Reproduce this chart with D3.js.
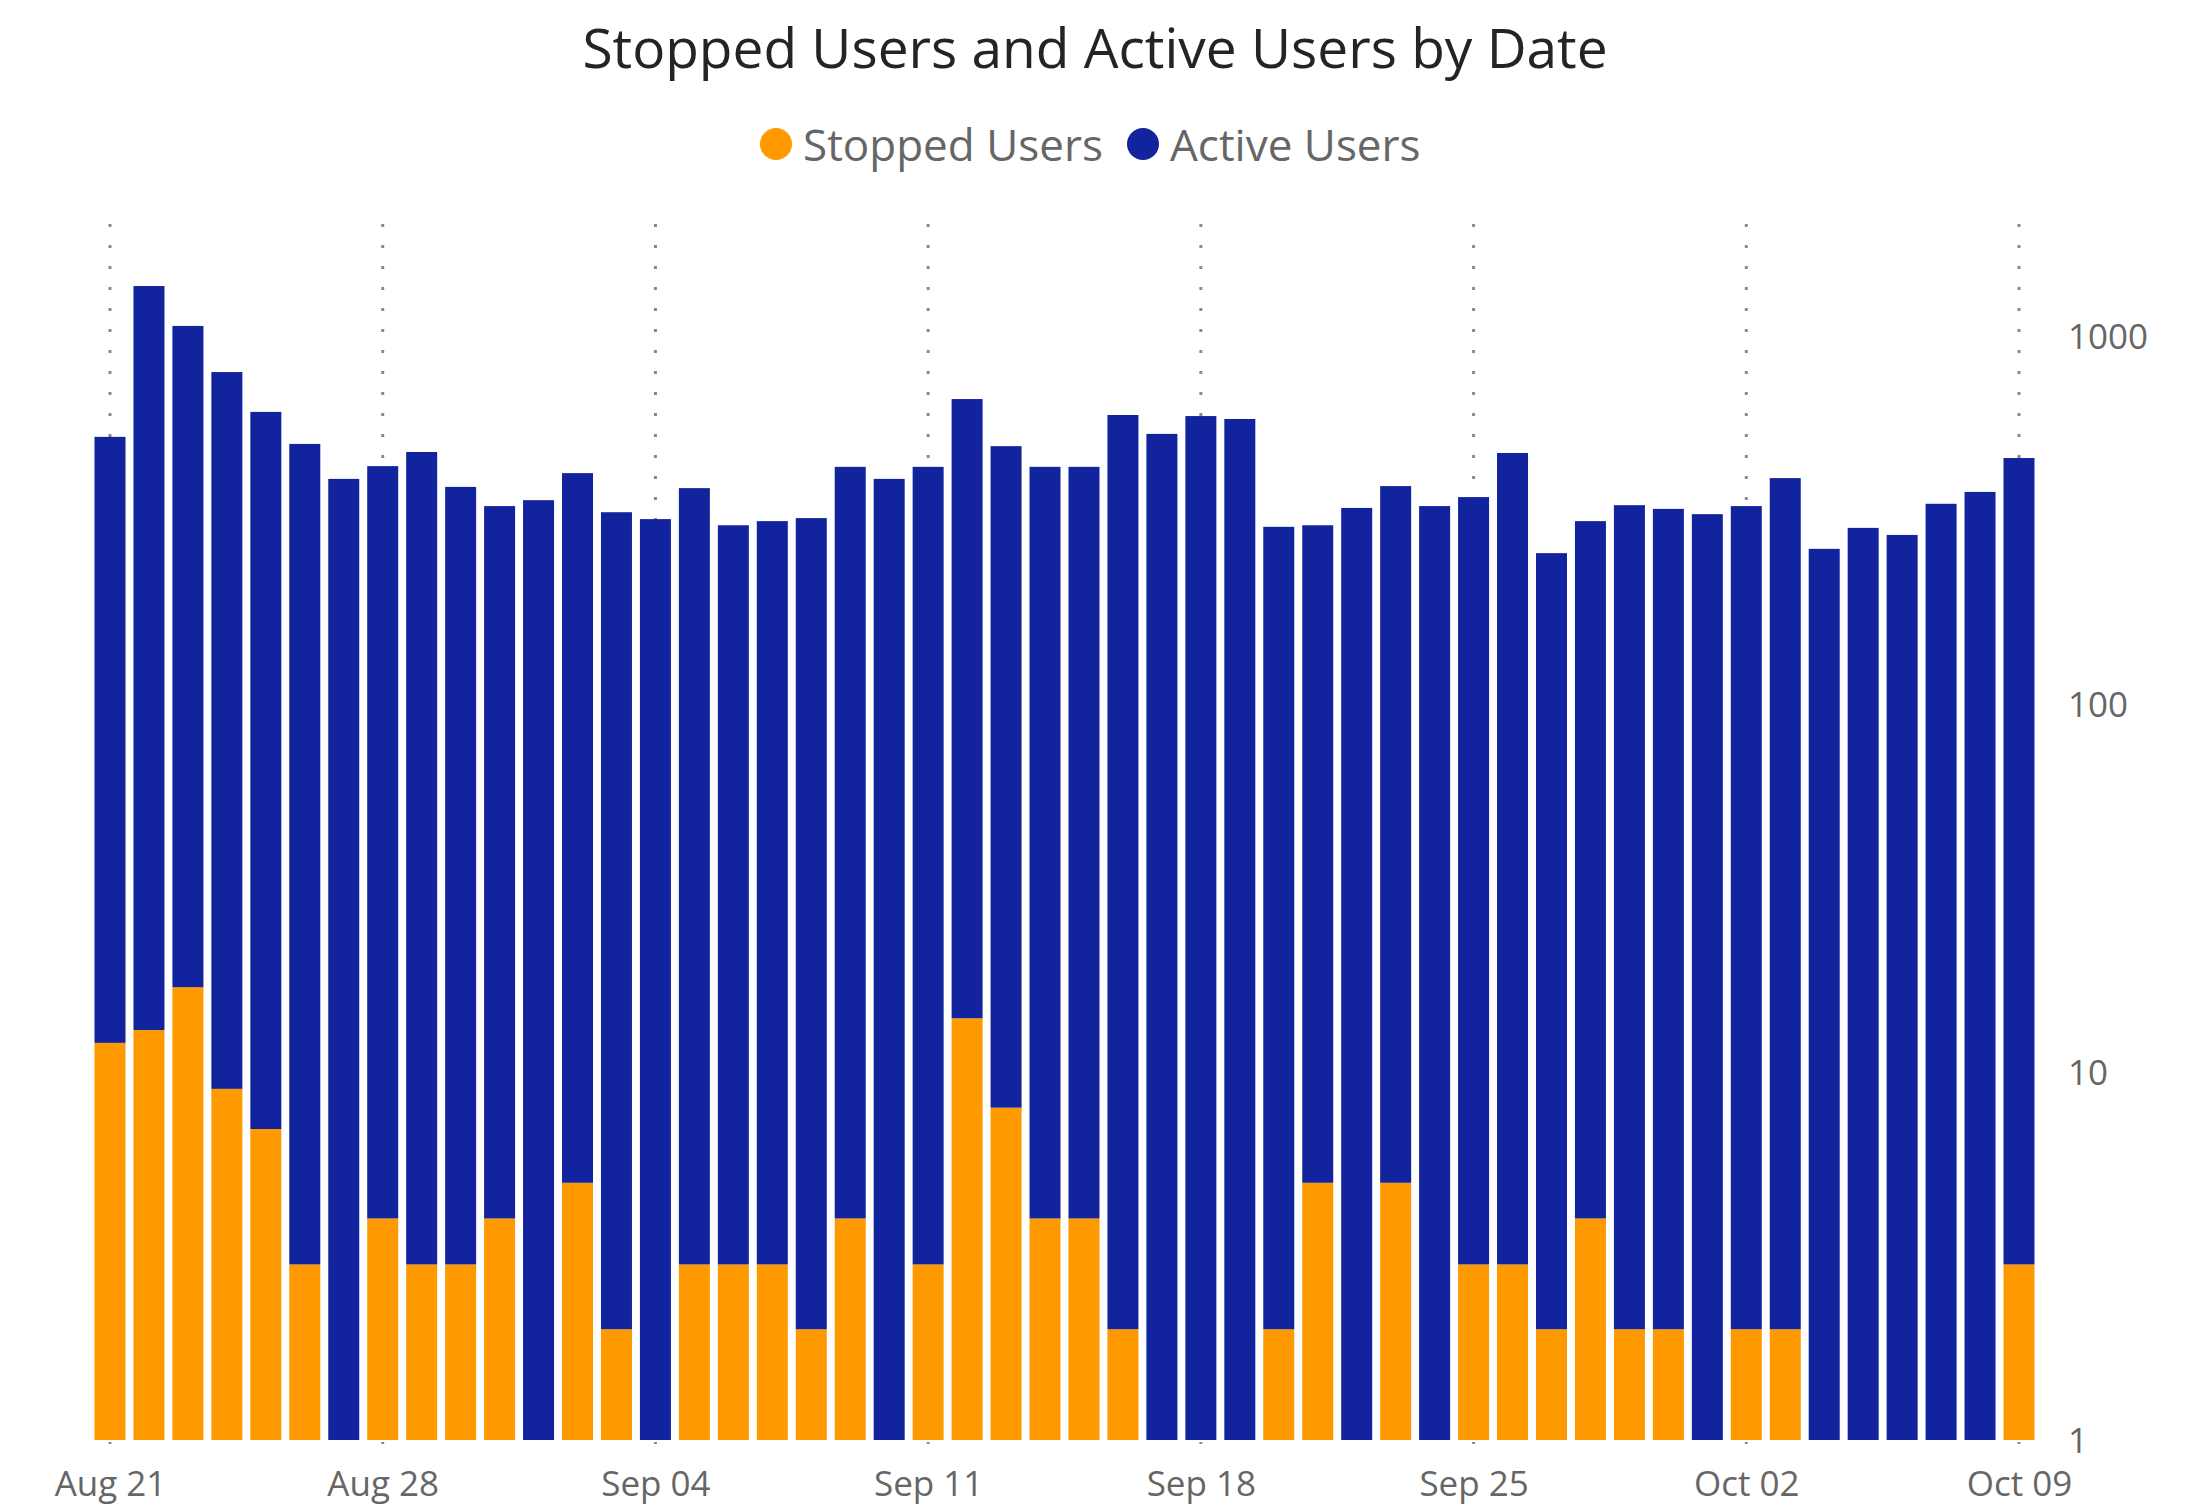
<!DOCTYPE html>
<html>
<head>
<meta charset="utf-8">
<script src="https://cdn.jsdelivr.net/npm/d3@7"></script>
<style>
  html, body { margin: 0; padding: 0; background: #fff; }
  svg { display: block; }
</style>
</head>
<body>
<svg id="chart" width="2197" height="1507"></svg>
<script>
// ---- Data ----
const dates = [
  "2023-08-21","2023-08-22","2023-08-23","2023-08-24","2023-08-25","2023-08-26","2023-08-27",
  "2023-08-28","2023-08-29","2023-08-30","2023-08-31","2023-09-01","2023-09-02","2023-09-03",
  "2023-09-04","2023-09-05","2023-09-06","2023-09-07","2023-09-08","2023-09-09","2023-09-10",
  "2023-09-11","2023-09-12","2023-09-13","2023-09-14","2023-09-15","2023-09-16","2023-09-17",
  "2023-09-18","2023-09-19","2023-09-20","2023-09-21","2023-09-22","2023-09-23","2023-09-24",
  "2023-09-25","2023-09-26","2023-09-27","2023-09-28","2023-09-29","2023-09-30","2023-10-01",
  "2023-10-02","2023-10-03","2023-10-04","2023-10-05","2023-10-06","2023-10-07","2023-10-08",
  "2023-10-09"
];
const stoppedUsers = [
  12,13,17,9,7,3,0,
  4,3,3,4,0,5,2,
  0,3,3,3,2,4,0,
  3,14,8,4,4,2,0,
  0,0,2,5,0,5,0,
  3,3,2,4,2,2,0,
  2,2,0,0,0,0,0,
  3
];
const activeUsers = [
  520,1354,1048,789,615,506,409,
  439,481,386,341,358,419,330,
  318,383,303,311,318,437,409,
  438,660,494,437,437,608,542,
  606,595,301,301,341,386,345,
  362,478,255,310,345,337,328,
  343,409,264,301,288,350,377,
  463
];
const xTickDates = ["2023-08-21","2023-08-28","2023-09-04","2023-09-11","2023-09-18","2023-09-25","2023-10-02","2023-10-09"];
const yTickValues = [1, 10, 100, 1000];
const seriesNames = ["Stopped Users", "Active Users"];
const seriesColors = ["#FF9900", "#12239E"];
const titleText = "Stopped Users and Active Users by Date";

// ---- Setup ----
const svg = d3.select("#chart");
const font = "'Open Sans', 'Noto Sans', sans-serif";
const parse = d3.timeParse("%Y-%m-%d");
const fmt = d3.timeFormat("%b %d");

const rows = dates.map((d, i) => ({
  date: parse(d), stopped: stoppedUsers[i], active: activeUsers[i]
}));

const plotTop = 224, plotBottom = 1440;
const x = d3.scaleTime()
  .domain([parse(dates[0]), parse(dates[dates.length - 1])])
  .range([110, 2019]);
const y = d3.scaleLog()
  .domain([1, 2000])
  .range([plotBottom, plotBottom - 368 * Math.log10(2000)]);
const barW = 31;

// vertical dotted gridlines
svg.append("g").selectAll("line")
  .data(xTickDates.map(parse))
  .join("line")
  .attr("x1", d => x(d)).attr("x2", d => x(d))
  .attr("y1", plotTop).attr("y2", plotBottom + 4)
  .attr("stroke", "#8a8a8a")
  .attr("stroke-width", 3)
  .attr("stroke-dasharray", "3,18");

// bars
const g = svg.append("g");
g.selectAll("rect.stopped")
  .data(rows.filter(r => r.stopped > 0))
  .join("rect")
  .attr("class", "stopped")
  .attr("x", d => x(d.date) - barW / 2)
  .attr("width", barW)
  .attr("y", d => y(d.stopped))
  .attr("height", d => y(1) - y(d.stopped))
  .attr("fill", seriesColors[0]);
g.selectAll("rect.active")
  .data(rows)
  .join("rect")
  .attr("class", "active")
  .attr("x", d => x(d.date) - barW / 2)
  .attr("width", barW)
  .attr("y", d => y(d.stopped + d.active))
  .attr("height", d => y(Math.max(1, d.stopped)) - y(d.stopped + d.active))
  .attr("fill", seriesColors[1]);

// x axis
const xAxis = svg.append("g")
  .attr("transform", `translate(0,${plotBottom})`)
  .call(d3.axisBottom(x).tickValues(xTickDates.map(parse)).tickFormat(fmt).tickSize(0));
xAxis.select(".domain").remove();
xAxis.selectAll("text")
  .attr("y", 44).attr("dy", "0.35em")
  .attr("fill", "#666666")
  .style("font-family", font)
  .style("font-size", "35px");

// y axis (right)
const yAxis = svg.append("g")
  .attr("transform", `translate(2060,0)`)
  .call(d3.axisRight(y).tickValues(yTickValues).tickFormat(d3.format("d")).tickSize(0));
yAxis.select(".domain").remove();
yAxis.selectAll("text")
  .attr("x", 8).attr("dy", "0.35em")
  .attr("fill", "#666666")
  .style("font-family", font)
  .style("font-size", "35px");

// title
svg.append("text")
  .attr("x", 1095).attr("y", 46)
  .attr("text-anchor", "middle")
  .attr("dominant-baseline", "central")
  .attr("fill", "#252423")
  .style("font-family", font)
  .style("font-weight", 500)
  .style("font-size", "55px")
  .text(titleText);

// legend
const legendPos = [{cx: 776, tx: 803}, {cx: 1143, tx: 1170}];
const legend = svg.append("g");
seriesNames.forEach((name, i) => {
  legend.append("circle")
    .attr("cx", legendPos[i].cx).attr("cy", 144).attr("r", 16)
    .attr("fill", seriesColors[i]);
  legend.append("text")
    .attr("x", legendPos[i].tx).attr("y", 144)
    .attr("dominant-baseline", "central")
    .attr("fill", "#666666")
    .style("font-family", font)
    .style("font-size", "44px")
    .text(name);
});
</script>
</body>
</html>
